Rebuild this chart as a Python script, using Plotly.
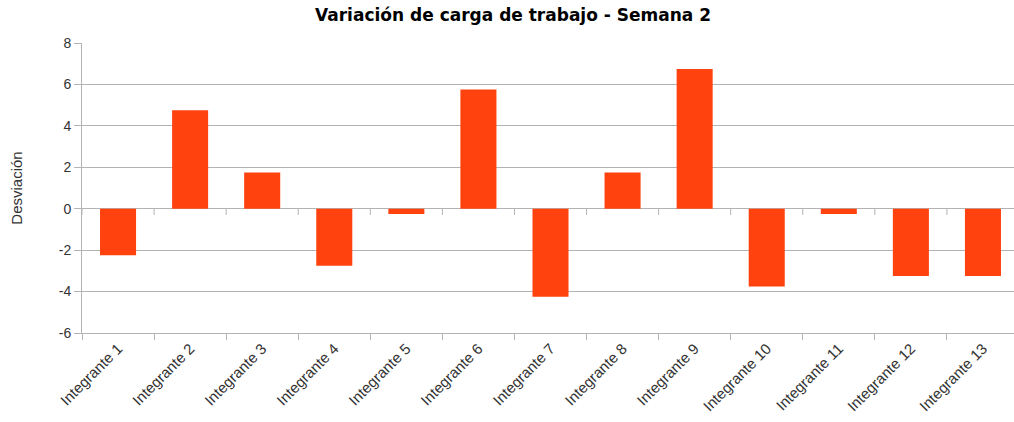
import plotly.graph_objects as go

categories = [f"Integrante {i}" for i in range(1, 14)]
desviacion = [-2.25, 4.75, 1.75, -2.75, -0.25, 5.75, -4.25, 1.75, 6.75, -3.75, -0.25, -3.25, -3.25]
y_ticks = [-6, -4, -2, 0, 2, 4, 6, 8]
y_tick_labels = ["-6", "-4", "-2", "0", "2", "4", "6", "8"]

fig = go.Figure()
fig.add_trace(go.Bar(x=categories, y=desviacion, marker=dict(color="#ff420e", line=dict(width=0)),
                     width=0.5, showlegend=False))

# small tick marks along the zero line at category boundaries
for i in range(len(categories) + 1):
    fig.add_shape(type="line", xref="x", yref="y", x0=i - 0.5, x1=i - 0.5, y0=0, y1=-0.3,
                  line=dict(color="#b3b3b3", width=1), layer="below")

fig.update_layout(
    width=1021, height=422, autosize=False,
    margin=dict(l=82, r=2, t=43, b=89),
    paper_bgcolor="white", plot_bgcolor="white",
    title=dict(text="<b>Variación de carga de trabajo - Semana 2</b>", x=0.5025, xanchor="center",
               y=0.965, yanchor="middle",
               font=dict(family="DejaVu Sans", size=17, color="black")),
    font=dict(family="Liberation Sans, Arial", size=14, color="#333333"),
    bargap=0.5,
)
fig.update_xaxes(
    type="category", range=[-0.5, 12.5], tickangle=-45, tickson="boundaries",
    ticks="outside", ticklen=6, tickcolor="#b3b3b3", showline=True, linecolor="#b3b3b3",
    showgrid=False, tickfont=dict(size=15, color="#333333"), automargin=False,
)
fig.update_yaxes(
    range=[-6, 8], tickvals=y_ticks, ticktext=y_tick_labels, ticks="outside", ticklen=7,
    tickcolor="#b3b3b3", showline=True, linecolor="#b3b3b3", gridcolor="#b3b3b3", zeroline=False,
    tickfont=dict(size=14, color="#333333"), automargin=False,
    title=dict(text="Desviación", font=dict(size=15, color="#333333"), standoff=32),
)
fig.write_html("out.html", config={"responsive": False, "displayModeBar": False},
               post_script="document.body.style.margin='0';document.body.style.overflow='hidden';")
